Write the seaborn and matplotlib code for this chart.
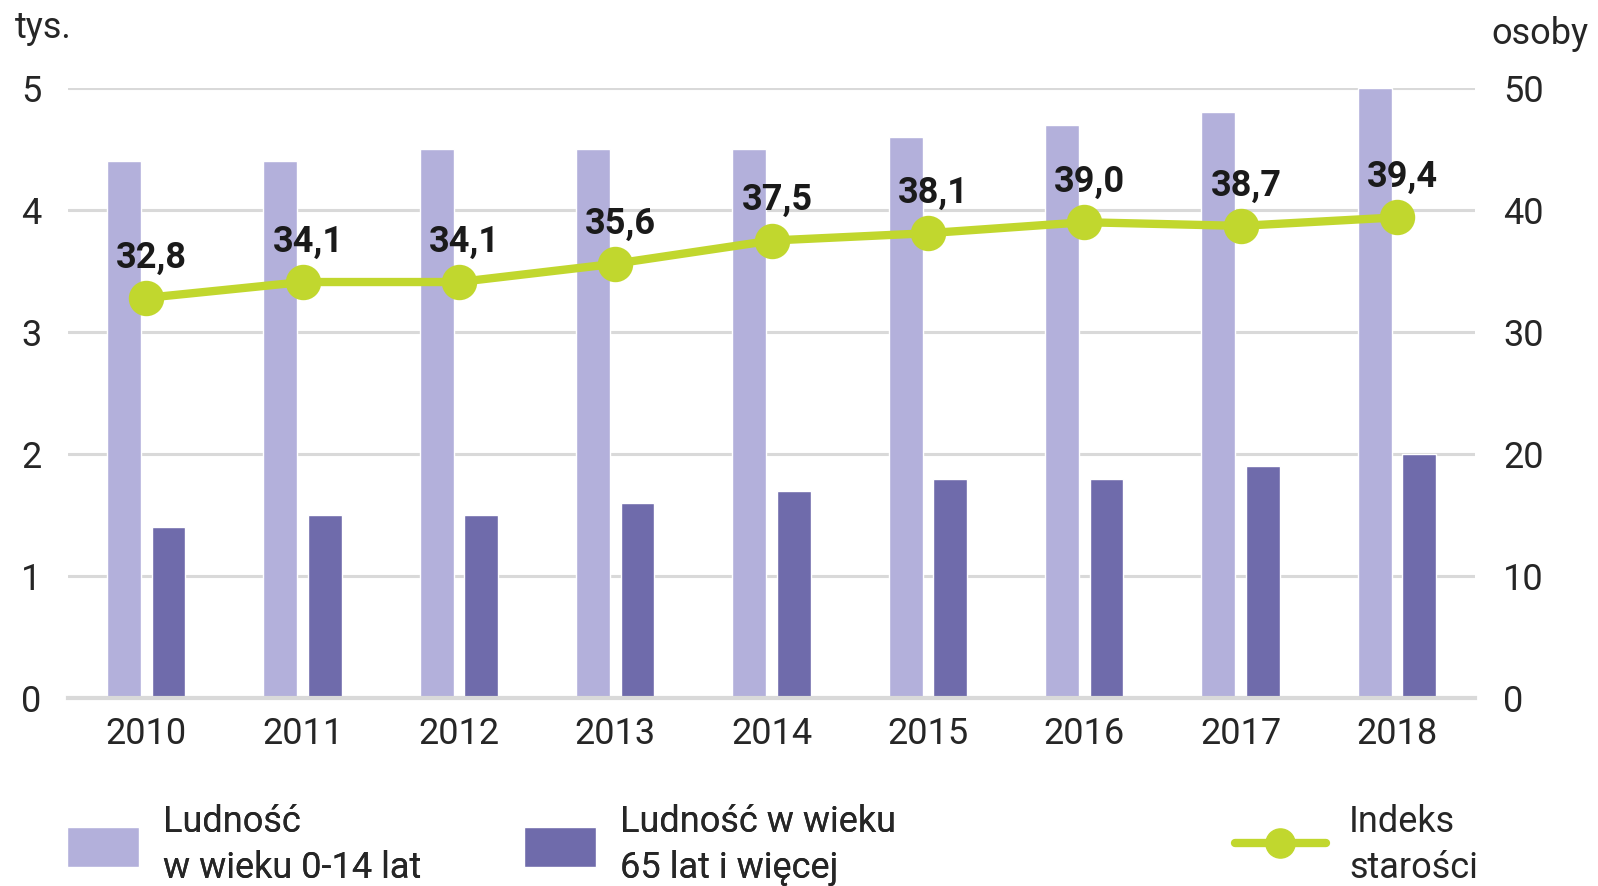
import matplotlib
matplotlib.use("Agg")
import matplotlib.pyplot as plt
import seaborn as sns
import pandas as pd
from matplotlib.patches import Patch
from matplotlib.lines import Line2D

# Dane
lata = ['2010', '2011', '2012', '2013', '2014', '2015', '2016', '2017', '2018']
ludnosc_0_14 = [4.4, 4.4, 4.5, 4.5, 4.5, 4.6, 4.7, 4.8, 5.0]
ludnosc_65 = [1.4, 1.5, 1.5, 1.6, 1.7, 1.8, 1.8, 1.9, 2.0]
indeks_starosci = [32.8, 34.1, 34.1, 35.6, 37.5, 38.1, 39.0, 38.7, 39.4]

kolor_jasny = '#B3B0DB'
kolor_ciemny = '#6F6BAB'
kolor_linii = '#C1D72E'
kolor_siatki = '#D9D9D9'

df = pd.DataFrame({
    'rok': lata * 2,
    'wartosc': ludnosc_0_14 + ludnosc_65,
    'seria': ['0-14'] * len(lata) + ['65+'] * len(lata),
})

sns.set_style("white")
plt.rcParams['font.family'] = ['Roboto', 'DejaVu Sans']
plt.rcParams['font.size'] = 26

fig = plt.figure(figsize=(15.98, 8.86), dpi=100)
ax = fig.add_axes([0.0426, 0.212, 0.8805, 0.6887])

# Słupki
sns.barplot(data=df, x='rok', y='wartosc', hue='seria', palette=[kolor_jasny, kolor_ciemny],
            width=0.57, gap=0.24, ax=ax, legend=False, saturation=1)
ax.set_ylim(0, 5)
ax.set_yticks([0, 1, 2, 3, 4, 5])
ax.set_xlabel('')
ax.set_ylabel('')
ax.grid(axis='y', color=kolor_siatki, linewidth=2.2)
ax.grid(axis='x', visible=False)
ax.set_axisbelow(True)
for s in ['top', 'left', 'right']:
    ax.spines[s].set_visible(False)
ax.spines['bottom'].set_color(kolor_siatki)
ax.spines['bottom'].set_linewidth(3)
ax.tick_params(axis='y', length=0, pad=19)
ax.tick_params(axis='x', length=0, pad=13)

# Linia - indeks starości
ax2 = ax.twinx()
sns.pointplot(x=lata, y=indeks_starosci, ax=ax2, color=kolor_linii, errorbar=None,
              markersize=21, linewidth=6)
ax2.set_ylim(0, 50)
ax2.set_yticks([0, 10, 20, 30, 40, 50])
ax2.tick_params(axis='y', length=0, pad=20)
for s in ['top', 'left', 'right', 'bottom']:
    ax2.spines[s].set_visible(False)
ax2.grid(False)
ax2.set_ylabel('')

for i, v in enumerate(indeks_starosci):
    ax2.annotate(f"{v:.1f}".replace('.', ','), (i, v), xytext=(4, 29), textcoords='offset points',
                 ha='center', va='center', fontweight='bold', color='#1a1a1a')

# Jednostki
fig.text(0.009, 0.968, 'tys.', ha='left', va='center')
fig.text(0.933, 0.962, 'osoby', ha='left', va='center')

# Legenda
wspolne = dict(loc='center left', frameon=False, borderpad=0, borderaxespad=0,
               handlelength=2.0, handleheight=1.3, handletextpad=0.65, fontsize=26)
leg1 = fig.legend(handles=[Patch(facecolor=kolor_jasny)], labels=['Ludność\nw wieku 0-14 lat'],
                  bbox_to_anchor=(0.042, 0.046), **wspolne)
fig.add_artist(leg1)
leg2 = fig.legend(handles=[Patch(facecolor=kolor_ciemny)], labels=['Ludność w wieku\n65 lat i więcej'],
                  bbox_to_anchor=(0.328, 0.046), **wspolne)
fig.add_artist(leg2)
wspolne3 = dict(wspolne, handlelength=2.5)
leg3 = fig.legend(handles=[Line2D([], [], color=kolor_linii, lw=6, marker='o', markersize=21)],
                  labels=['Indeks\nstarości'], bbox_to_anchor=(0.773, 0.046), **wspolne3)
for leg in (leg1, leg2, leg3):
    for t in leg.get_texts():
        t.set_linespacing(1.35)

plt.savefig('out.png', dpi=100)
